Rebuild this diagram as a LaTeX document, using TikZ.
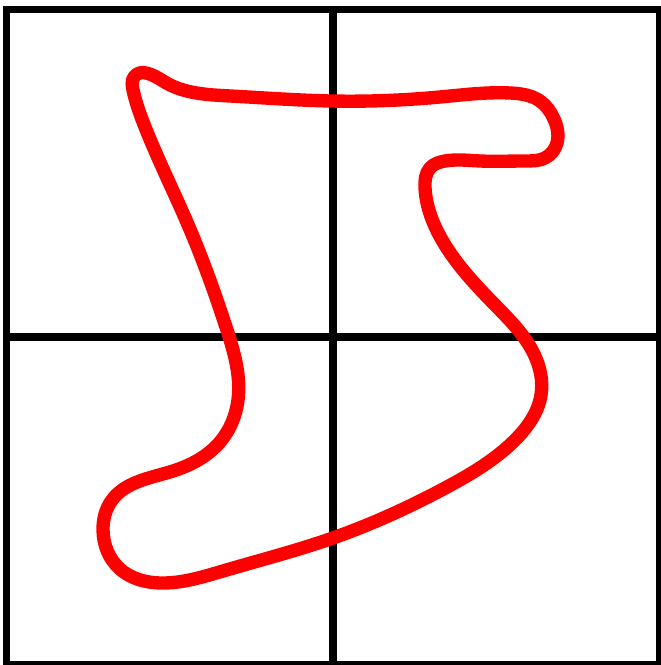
\documentclass[tikz,border=0pt]{standalone}
\usetikzlibrary{hobby}
\begin{document}
\begin{tikzpicture}[x=0.01cm,y=-0.01cm,
  gridline/.style={black,line width=2pt},
  loopline/.style={red,line width=3.8pt,line join=round}]
\useasboundingbox (0,0) rectangle (660,665);
\coordinate (tl) at (6.5,9.5);
\coordinate (br) at (659.5,664.5);
\coordinate (mt) at (333,9.5);
\coordinate (mb) at (333,664.5);
\coordinate (ml) at (6.5,337);
\coordinate (mr) at (659.5,337);
\draw[gridline] (tl) rectangle (br);
\draw[gridline] (mt) -- (mb);
\draw[gridline] (ml) -- (mr);
\draw[loopline,use Hobby shortcut,closed=true]
(134,77) .. (163,81) .. (230,96) .. (330,101) .. (440,97) .. (510,93) ..
(540,101) .. (554,119) .. (557,143) .. (545,158) .. (525,161) .. (480,161) ..
(445,161) .. (430,168) .. (425,188) ..
(442,240) .. (497,307) .. (534,354) .. (541,395) .. (515,440) .. (447,487) ..
(330,539) .. (223,571) .. (165,583) .. (120,569) .. (103,530) .. (112,500) ..
(173,471) .. (220,442) .. (238,400) .. (226,327) .. (189,227) .. (145,127) .. (133,90);
\end{tikzpicture}
\end{document}
